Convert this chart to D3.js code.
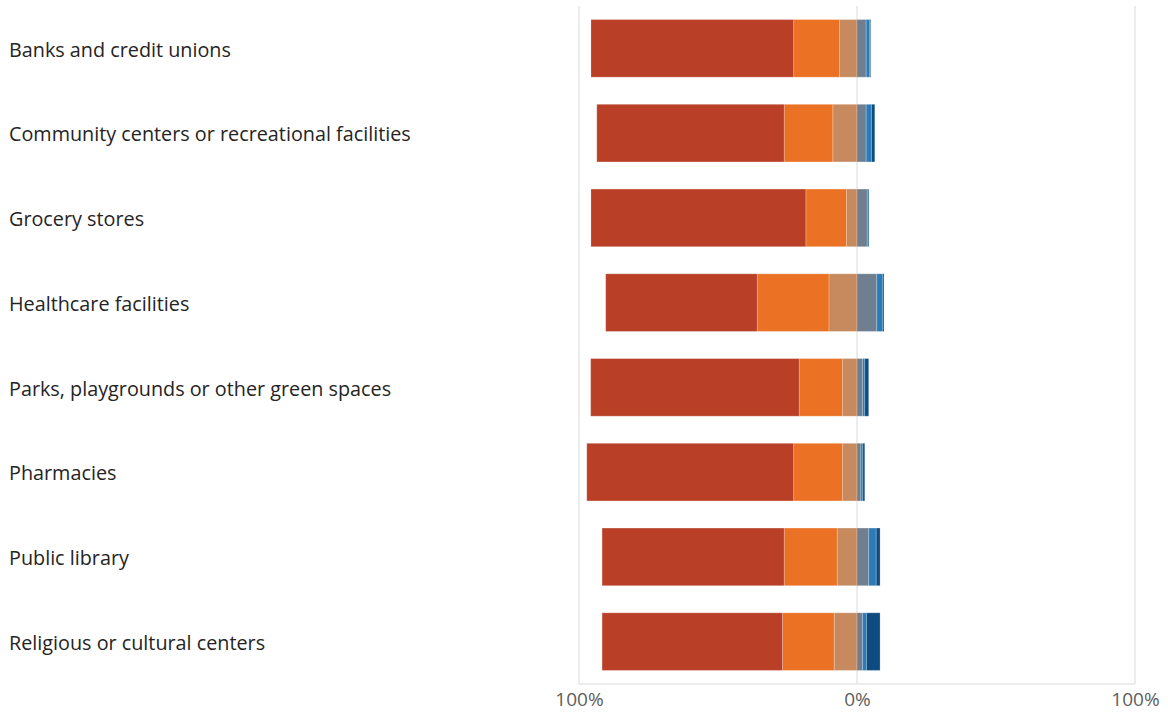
<!DOCTYPE html>
<html>
<head>
<meta charset="utf-8">
<script src="https://cdn.jsdelivr.net/npm/d3@7"></script>
<style>
  html, body { margin: 0; padding: 0; background: #fff; }
  svg { display: block; }
</style>
</head>
<body>
<svg id="chart" width="1168" height="714"></svg>
<script>
// Facilities shown down the left side
const categories = [
  "Banks and credit unions",
  "Community centers or recreational facilities",
  "Grocery stores",
  "Healthcare facilities",
  "Parks, playgrounds or other green spaces",
  "Pharmacies",
  "Public library",
  "Religious or cultural centers"
];

// Shares (%) to the left of zero, from the outer segment inward
const negOuter = [72.9, 67.4, 77.3, 54.5, 75.0, 74.4, 65.5, 64.9];
const negMiddle = [16.5, 17.5, 14.6, 25.8, 15.6, 17.6, 19.1, 18.6];
const negInner = [6.3, 8.7, 3.8, 10.1, 5.2, 5.2, 7.1, 8.2];

// Shares (%) to the right of zero, from zero outward
const posInner = [3.3, 3.3, 3.7, 7.1, 2.0, 1.4, 4.2, 2.0];
const posMiddle = [1.2, 1.9, 0.6, 2.2, 0.8, 0.7, 2.7, 1.4];
const posOuter = [0.4, 1.2, 0.0, 0.4, 1.4, 0.7, 1.4, 4.9];

const tickValues = [-100, 0, 100];
const tickLabels = ["100%", "0%", "100%"];

const segColors = ["#b93f27", "#eb7224", "#c68a5e", "#6f7f8f", "#2b7bb8", "#0d4b81"];

const svg = d3.select("#chart");
const plot = { left: 579, right: 1135, top: 6, bottom: 684 };

const x = d3.scaleLinear().domain([-100, 100]).range([plot.left, plot.right]);
const y = d3.scaleBand().domain(categories).range([plot.top, plot.bottom])
  .paddingInner(0.32).paddingOuter(0.16);

// Build the segment list for each row: negatives stacked leftwards, positives rightwards
const segments = [];
categories.forEach((c, i) => {
  const neg = [negInner[i], negMiddle[i], negOuter[i]];
  const negIdx = [2, 1, 0];
  let acc = 0;
  neg.forEach((v, k) => {
    segments.push({ cat: c, x0: -(acc + v), x1: -acc, color: segColors[negIdx[k]] });
    acc += v;
  });
  const pos = [posInner[i], posMiddle[i], posOuter[i]];
  acc = 0;
  pos.forEach((v, k) => {
    segments.push({ cat: c, x0: acc, x1: acc + v, color: segColors[3 + k] });
    acc += v;
  });
});

// Vertical gridlines at the tick positions
svg.append("g")
  .selectAll("line")
  .data(tickValues)
  .join("line")
  .attr("x1", d => x(d)).attr("x2", d => x(d))
  .attr("y1", plot.top).attr("y2", plot.bottom)
  .attr("stroke", "#e6e6e6").attr("stroke-width", 1.5);

// Bars
svg.append("g")
  .selectAll("rect")
  .data(segments.filter(s => s.x1 - s.x0 > 0))
  .join("rect")
  .attr("x", d => x(d.x0))
  .attr("width", d => x(d.x1) - x(d.x0))
  .attr("y", d => y(d.cat))
  .attr("height", y.bandwidth())
  .attr("fill", d => d.color)
  .attr("stroke", "rgba(255,255,255,0.22)")
  .attr("stroke-width", 1);

// Baseline along the bottom
svg.append("line")
  .attr("x1", plot.left).attr("x2", plot.right)
  .attr("y1", plot.bottom).attr("y2", plot.bottom)
  .attr("stroke", "#e6e6e6").attr("stroke-width", 1.5);

// Bottom axis tick labels
const xAxis = d3.axisBottom(x)
  .tickValues(tickValues)
  .tickFormat((d, i) => tickLabels[i])
  .tickSize(0)
  .tickPadding(9);
const ax = svg.append("g")
  .attr("transform", `translate(0,${plot.bottom})`)
  .call(xAxis);
ax.select(".domain").remove();
ax.selectAll("text")
  .attr("fill", "#605e5c")
  .style("font-family", "'Segoe UI', 'Open Sans', 'Noto Sans', sans-serif")
  .style("font-size", "19px");

// Category labels
svg.append("g")
  .selectAll("text")
  .data(categories)
  .join("text")
  .attr("x", 9)
  .attr("y", d => y(d) + y.bandwidth() / 2)
  .attr("dy", "0.42em")
  .attr("fill", "#252423")
  .style("font-family", "'Segoe UI', 'Open Sans', 'Noto Sans', sans-serif")
  .style("font-size", "19.8px")
  .text(d => d);
</script>
</body>
</html>
